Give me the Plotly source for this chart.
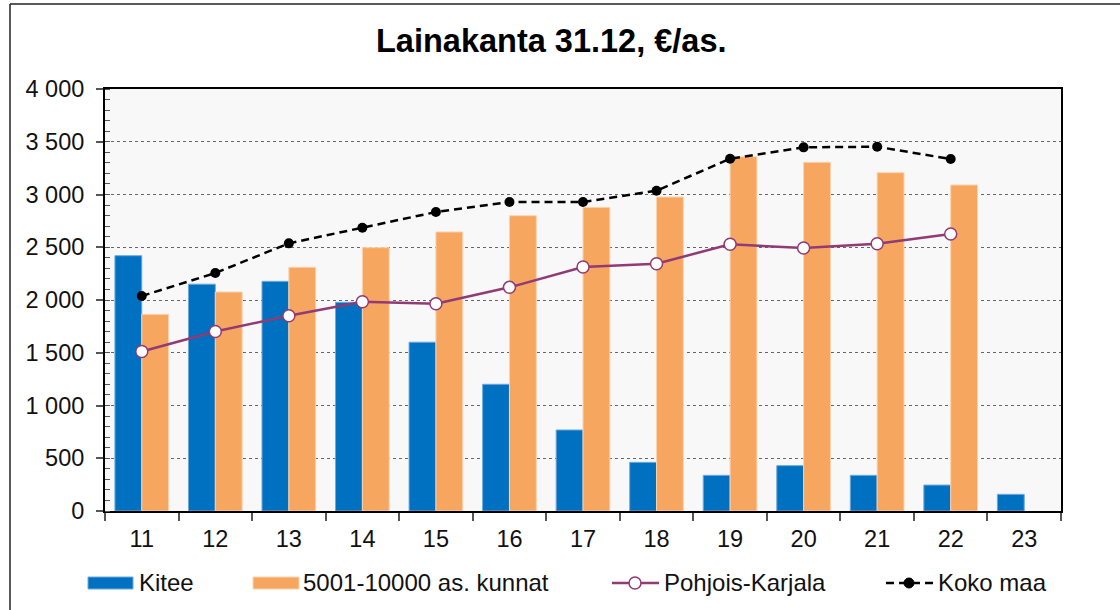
import plotly.graph_objects as go

years = ["11", "12", "13", "14", "15", "16", "17", "18", "19", "20", "21", "22", "23"]
kitee = [2420, 2150, 2177, 1978, 1600, 1201, 768, 461, 338, 430, 338, 246, 158]
kunnat = [1864, 2076, 2310, 2496, 2645, 2799, 2878, 2976, 3358, 3305, 3207, 3090, None]
pohjois_karjala = [1512, 1702, 1851, 1984, 1965, 2120, 2313, 2344, 2528, 2493, 2533, 2626, None]
koko_maa = [2038, 2256, 2537, 2685, 2834, 2929, 2929, 3036, 3339, 3447, 3453, 3336, None]
y_ticks = [0, 500, 1000, 1500, 2000, 2500, 3000, 3500, 4000]

W, H = 1120, 610
L, R, T, B = 105, 1061, 89, 511
PW, PH = R - L, B - T

def px(x):
    return (x - L) / PW

def py(y):
    return (B - y) / PH

BLUE = "#0070C0"
ORANGE = "#F7A660"
PURPLE = "#913A74"
FONT = "Arial, Liberation Sans, sans-serif"
DASH = "8px,5px"

fig = go.Figure()
fig.add_trace(go.Bar(x=years, y=kitee, name="Kitee", marker=dict(color=BLUE, line=dict(color="#6FA8DC", width=1))))
fig.add_trace(go.Bar(x=years, y=kunnat, name="5001-10000 as. kunnat", marker=dict(color=ORANGE, line=dict(color="#FBD3B0", width=1))))
fig.add_trace(go.Scatter(x=years, y=pohjois_karjala, name="Pohjois-Karjala", mode="lines+markers",
                         line=dict(color=PURPLE, width=2.5),
                         marker=dict(size=12, color="white", line=dict(color=PURPLE, width=1.5))))
fig.add_trace(go.Scatter(x=years, y=koko_maa, name="Koko maa", mode="lines+markers",
                         line=dict(color="black", width=2.5, dash=DASH),
                         marker=dict(size=10, color="black")))

shapes = []
annotations = []

# outer chart border
shapes.append(dict(type="line", xref="paper", yref="paper", x0=px(10), x1=px(10), y0=py(4), y1=py(620),
                   line=dict(color="#222", width=1.5)))
shapes.append(dict(type="line", xref="paper", yref="paper", x0=px(10), x1=px(1125), y0=py(4), y1=py(4),
                   line=dict(color="#222", width=1.5)))

# manual legend
ly = 583
def legend_rect(x0, x1, color, edge):
    shapes.append(dict(type="rect", xref="paper", yref="paper", x0=px(x0), x1=px(x1), y0=py(ly + 6), y1=py(ly - 6),
                       fillcolor=color, line=dict(color=edge, width=1)))

def legend_text(x, text):
    annotations.append(dict(text=text, xref="paper", yref="paper", x=px(x), y=py(ly - 1), xanchor="left", yanchor="middle",
                            showarrow=False, font=dict(family=FONT, size=24, color="#111")))

legend_rect(88, 133, BLUE, "#6FA8DC")
legend_text(137, "Kitee")
legend_rect(253, 299, ORANGE, "#FBD3B0")
legend_text(301, "5001-10000 as. kunnat")
shapes.append(dict(type="line", xref="paper", yref="paper", x0=px(612), x1=px(659), y0=py(ly), y1=py(ly),
                   line=dict(color=PURPLE, width=2.5)))
shapes.append(dict(type="circle", xref="paper", yref="paper", xsizemode="pixel", ysizemode="pixel",
                   xanchor=px(635), yanchor=py(ly), x0=-6, x1=6, y0=-6, y1=6,
                   fillcolor="white", line=dict(color=PURPLE, width=1.5)))
legend_text(662, "Pohjois-Karjala")
shapes.append(dict(type="line", xref="paper", yref="paper", x0=px(886), x1=px(933), y0=py(ly), y1=py(ly),
                   line=dict(color="black", width=2.5, dash=DASH)))
shapes.append(dict(type="circle", xref="paper", yref="paper", xsizemode="pixel", ysizemode="pixel",
                   xanchor=px(909), yanchor=py(ly), x0=-5, x1=5, y0=-5, y1=5,
                   fillcolor="black", line=dict(color="black", width=1)))
legend_text(936, "Koko maa")

# title
annotations.append(dict(text="<b>Lainakanta 31.12, €/as.</b>", xref="paper", yref="paper", x=px(551), y=py(41),
                        xanchor="center", yanchor="middle", showarrow=False,
                        font=dict(family=FONT, size=32.5, color="black")))

fig.update_layout(
    width=W, height=H,
    margin=dict(l=L, r=W - R, t=T, b=H - B, pad=0),
    paper_bgcolor="white",
    plot_bgcolor="#F8F8F8",
    barmode="group",
    bargap=0.27,
    bargroupgap=0,
    showlegend=False,
    separators=", ",
    font=dict(family=FONT, size=23, color="#111"),
    shapes=shapes,
    annotations=annotations,
)
fig.update_xaxes(type="category", range=[-0.5, len(years) - 0.5], tickson="boundaries", ticks="outside", ticklen=8,
                 tickwidth=1.5, tickcolor="#555",
                 showline=True, linecolor="black", linewidth=2, mirror=True, showgrid=False,
                 tickfont=dict(size=23.5, color="#111"), ticklabelstandoff=6)
fig.update_yaxes(range=[0, 4000], tickvals=y_ticks, tickformat=",d", ticks="outside", ticklen=7, tickwidth=1.5,
                 tickcolor="#555", showline=True, linecolor="black", linewidth=2, mirror=True,
                 showgrid=True, gridcolor="#666", gridwidth=1, griddash="dot", zeroline=False,
                 minor=dict(dtick=100, ticks="inside", ticklen=5, tickwidth=1, tickcolor="#555", showgrid=False),
                 tickfont=dict(size=23.5, color="#111"), ticklabelstandoff=7)

fig.write_html("out.html", config={"displayModeBar": False},
               post_script="document.body.style.margin='0';document.body.style.overflow='hidden';")
